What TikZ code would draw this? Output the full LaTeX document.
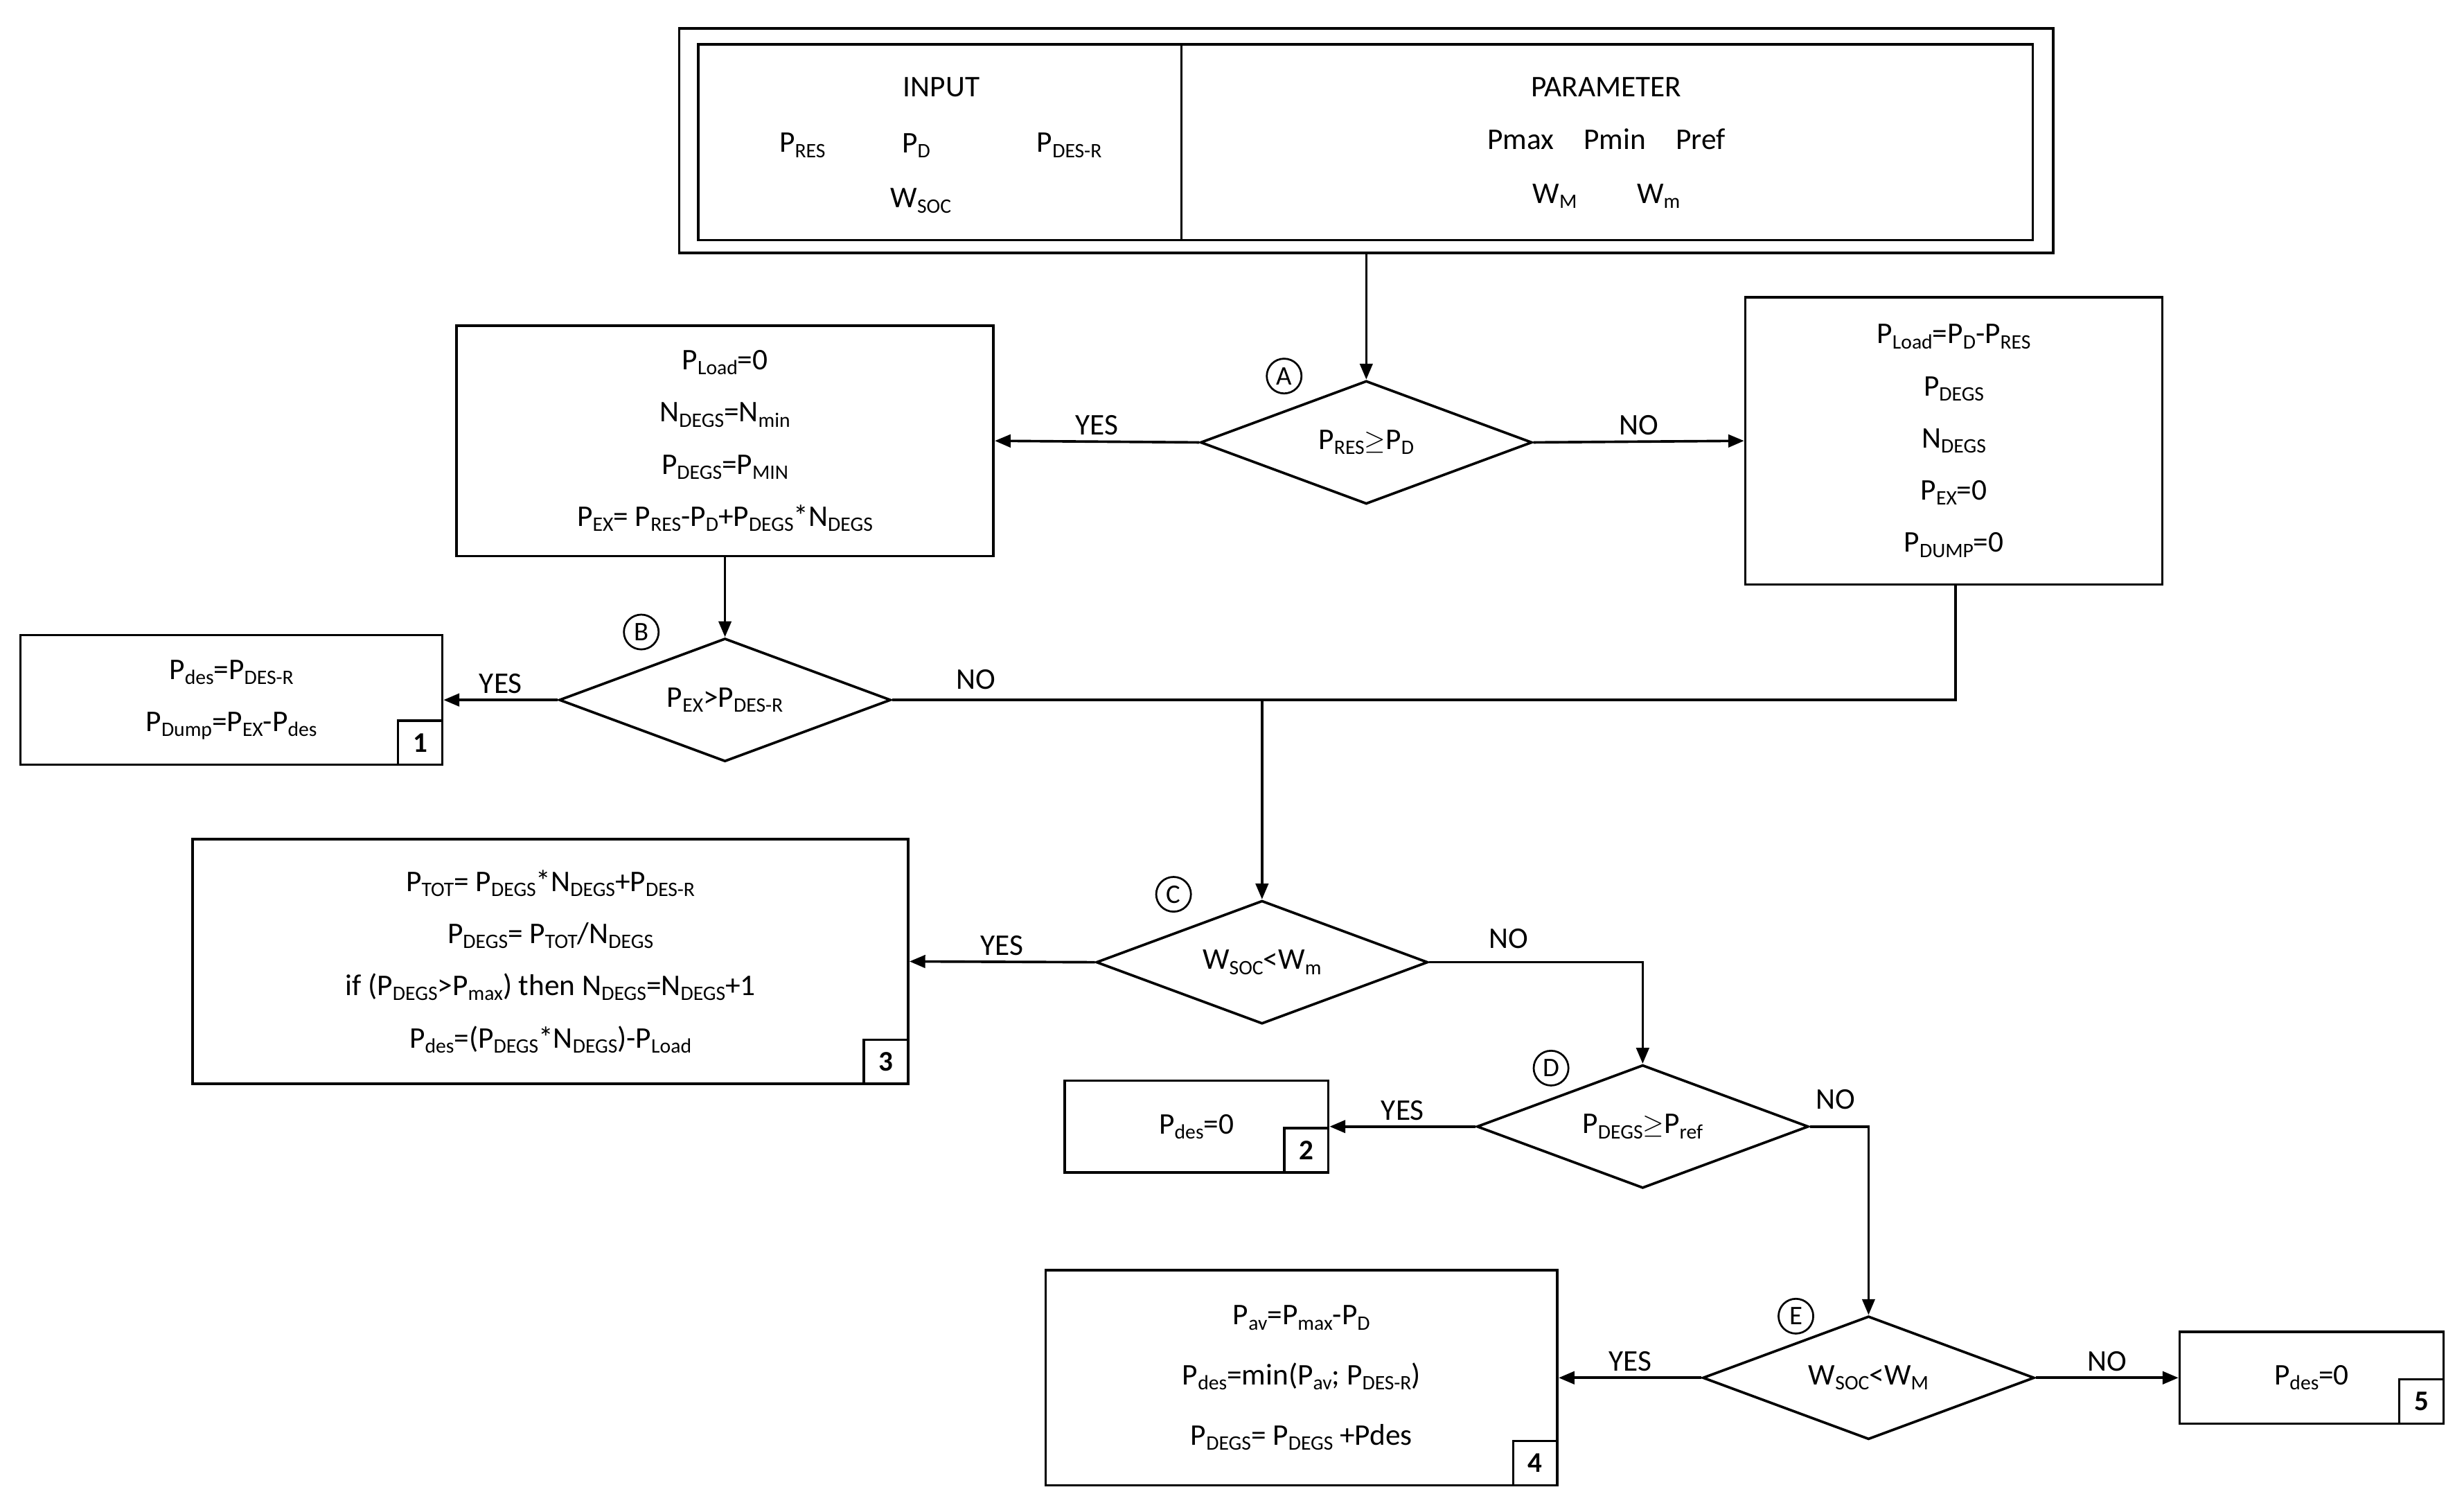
\documentclass[tikz,border=0pt]{standalone}
\usepackage{fontspec}
\setmainfont{Carlito}
\usetikzlibrary{shapes.geometric,arrows.meta}
\newcommand{\sbx}[1]{\raisebox{-0.35ex}{\fontsize{13}{13}\selectfont #1}}
\begin{document}
\begin{tikzpicture}[x=1pt,y=-1pt,line width=1.6pt,
 box/.style={draw,rectangle,align=center,inner sep=0pt,font={\fontsize{19}{33}\selectfont}},
 dia/.style={draw,diamond,aspect=2.7,minimum width=210pt,minimum height=78pt,inner sep=0pt,font=\fontsize{19}{22}\selectfont},
 lab/.style={font=\fontsize{19}{22}\selectfont},
 circ/.style={draw,circle,line width=1.2pt,inner sep=1pt,minimum size=22pt,font=\fontsize{17}{18}\selectfont},
 num/.style={draw,rectangle,minimum size=28pt,inner sep=0pt,font=\bfseries\fontsize{18}{18}\selectfont,anchor=south east},
 arr/.style={-{Triangle[length=10pt,width=8pt]}}]
\useasboundingbox (0,0) rectangle (1560,951);
% header
\node[draw,minimum width=870pt,minimum height=142pt] (hdr) at (865,89) {};
\node[draw,minimum width=845pt,minimum height=124pt] (hin) at (864.5,90) {};
\coordinate (d1) at (748,28);
\coordinate (d2) at (748,152);
\draw (d1) -- (d2);
\node[lab] (t1) at (596,55) {INPUT};
\node[lab] (t2) at (508,92) {P\sbx{RES}};
\node[lab] (t3) at (580,92) {P\sbx{D}};
\node[lab] (t4) at (677,92) {P\sbx{DES-R}};
\node[lab] (t5) at (583,127) {W\sbx{SOC}};
\node[lab] (t6) at (1017,55) {PARAMETER};
\node[lab] (t7) at (1017,88) {Pmax\quad Pmin\quad Pref};
\node[lab] (t8) at (1017,124) {W\sbx{M}\qquad W\sbx{m}};
% diamond A
\node[dia] (A) at (865,280) {P\sbx{RES}$\geq$P\sbx{D}};
\node[circ] (cA) at (813,238) {A};
\draw[arr] (hdr.south -| A.north) -- (A.north);
\node[box,minimum width=340pt,minimum height=146pt] (L) at (459,279)
 {P\sbx{Load}=0\\N\sbx{DEGS}=N\sbx{min}\\P\sbx{DEGS}=P\sbx{MIN}\\P\sbx{EX}= P\sbx{RES}-P\sbx{D}+P\sbx{DEGS}*N\sbx{DEGS}};
\node[box,minimum width=264pt,minimum height=182pt] (R) at (1237,279)
 {P\sbx{Load}=P\sbx{D}-P\sbx{RES}\\P\sbx{DEGS}\\N\sbx{DEGS}\\P\sbx{EX}=0\\P\sbx{DUMP}=0};
\draw[arr] (A.west) -- (L.east) node[lab,midway,above] {YES};
\draw[arr] (A.east) -- (R.west) node[lab,midway,above] {NO};
% diamond B
\node[dia] (B) at (459,443) {P\sbx{EX}>P\sbx{DES-R}};
\node[circ] (cB) at (406,400) {B};
\draw[arr] (L.south) -- (B.north);
\node[box,minimum width=267pt,minimum height=82pt] (b1) at (146.5,443)
 {P\sbx{des}=P\sbx{DES-R}\\P\sbx{Dump}=P\sbx{EX}-P\sbx{des}};
\node[num] (n1) at (b1.south east) {1};
\draw[arr] (B.west) -- (b1.east) node[lab,midway,above] {YES};
\coordinate (j1) at (799,443);
\coordinate (j2) at (1238,443);
\draw (B.east) -- (j2) -- (R.south -| j2);
\node[lab] (no1) at (618,430) {NO};
% diamond C
\node[dia] (C) at (799,609) {W\sbx{SOC}<W\sbx{m}};
\node[circ] (cC) at (743,566) {C};
\draw[arr] (j1) -- (C.north);
\node[box,minimum width=453pt,minimum height=155pt] (b3) at (348.5,608.5)
 {P\sbx{TOT}= P\sbx{DEGS}*N\sbx{DEGS}+P\sbx{DES-R}\\P\sbx{DEGS}= P\sbx{TOT}/N\sbx{DEGS}\\if (P\sbx{DEGS}>P\sbx{max}) then N\sbx{DEGS}=N\sbx{DEGS}+1\\P\sbx{des}=(P\sbx{DEGS}*N\sbx{DEGS})-P\sbx{Load}};
\node[num] (n3) at (b3.south east) {3};
\draw[arr] (C.west) -- (b3.east) node[lab,midway,above] {YES};
% diamond D
\node[dia] (D) at (1040,713) {P\sbx{DEGS}$\geq$P\sbx{ref}};
\node[circ] (cD) at (982,676) {D};
\draw[arr] (C.east) -| (D.north);
\node[lab] (no2) at (955,594) {NO};
\node[box,minimum width=167pt,minimum height=58pt] (b2) at (757.5,713) {P\sbx{des}=0};
\node[num] (n2) at (b2.south east) {2};
\draw[arr] (D.west) -- (b2.east) node[lab,midway,above] {YES};
% diamond E
\node[dia] (E) at (1183,872) {W\sbx{SOC}<W\sbx{M}};
\node[circ] (cE) at (1137,833) {E};
\draw[arr] (D.east) -| (E.north);
\node[lab] (no3) at (1162,696) {NO};
\node[box,minimum width=324pt,minimum height=136pt,font={\fontsize{19}{38}\selectfont}] (b4) at (824,872)
 {P\sbx{av}=P\sbx{max}-P\sbx{D}\\P\sbx{des}=min(P\sbx{av}; P\sbx{DES-R})\\P\sbx{DEGS}= P\sbx{DEGS} +Pdes};
\node[num] (n4) at (b4.south east) {4};
\draw[arr] (E.west) -- (b4.east) node[lab,midway,above] {YES};
\node[box,minimum width=167pt,minimum height=58pt] (b5) at (1463.5,872) {P\sbx{des}=0};
\node[num] (n5) at (b5.south east) {5};
\draw[arr] (E.east) -- (b5.west) node[lab,midway,above] {NO};
\end{tikzpicture}
\end{document}
